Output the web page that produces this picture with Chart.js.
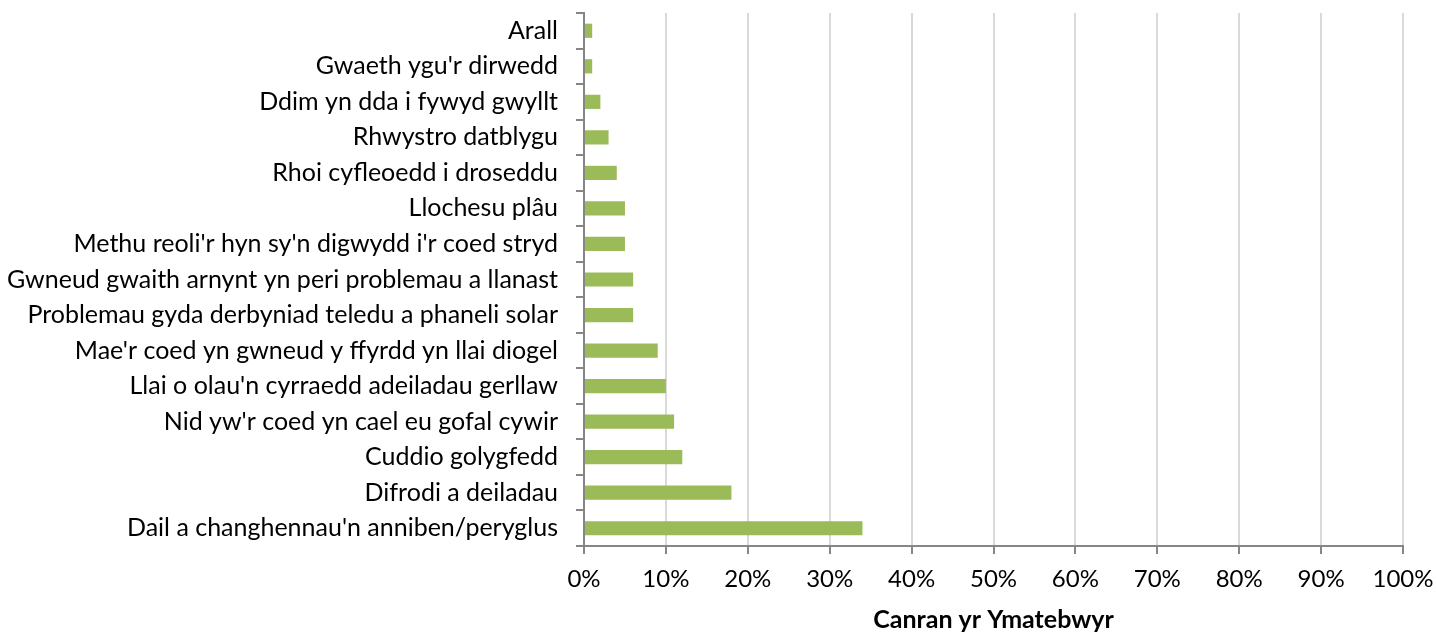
<!DOCTYPE html>
<html>
<head>
<meta charset="utf-8">
<script src="https://cdn.jsdelivr.net/npm/chart.js@4/dist/chart.umd.min.js"></script>
<style>
  html, body { margin: 0; padding: 0; background: #fff; }
  #wrap { width: 1436px; height: 635px; }
</style>
</head>
<body>
<div id="wrap"><canvas id="myChart"></canvas></div>
<script>
// categories, top to bottom as in the picture
const categories = [
  'Arall',
  "Gwaeth ygu'r dirwedd",
  'Ddim yn dda i fywyd gwyllt',
  'Rhwystro datblygu',
  'Rhoi cyfleoedd i droseddu',
  'Llochesu plâu',
  "Methu reoli'r hyn sy'n digwydd i'r coed stryd",
  'Gwneud gwaith arnynt yn peri problemau a llanast',
  'Problemau gyda derbyniad teledu a phaneli solar',
  "Mae'r coed yn gwneud y ffyrdd yn llai diogel",
  "Llai o olau'n cyrraedd adeiladau gerllaw",
  "Nid yw'r coed yn cael eu gofal cywir",
  'Cuddio golygfedd',
  'Difrodi a deiladau',
  "Dail a changhennau'n anniben/peryglus"
];
// percent of respondents
const percentages = [1, 1, 2, 3, 4, 5, 5, 6, 6, 9, 10, 11, 12, 18, 34];
const axisTitle = 'Canran yr Ymatebwyr';

const fontFamily = 'Lato, "Open Sans", sans-serif';

var ctx = document.getElementById('myChart').getContext('2d');
var chart = new Chart(ctx, {
  type: 'bar',
  data: {
    labels: categories,
    datasets: [{
      label: axisTitle,
      backgroundColor: '#9bbb59',
      borderWidth: 0,
      barPercentage: 0.8,
      categoryPercentage: 0.5,
      data: percentages
    }]
  },
  options: {
    indexAxis: 'y',
    responsive: true,
    maintainAspectRatio: false,
    animation: false,
    layout: { padding: { top: 13, right: 33, left: 0, bottom: 0 } },
    plugins: {
      legend: { display: false },
      tooltip: { enabled: false }
    },
    scales: {
      x: {
        min: 0,
        max: 100,
        ticks: {
          stepSize: 10,
          color: '#000',
          padding: 11,
          maxRotation: 0,
          font: { family: fontFamily, size: 24 },
          callback: (v) => v + '%'
        },
        grid: {
          color: '#d9d9d9',
          lineWidth: 2,
          tickColor: '#868686',
          tickLength: 8
        },
        border: { color: '#868686', width: 2 },
        title: {
          display: true,
          text: axisTitle,
          color: '#000',
          font: { family: fontFamily, size: 25, weight: 'bold' },
          padding: { top: 10, bottom: 0 }
        },
        afterFit: (scale) => { scale.height = 89; scale.paddingLeft = 0; scale.paddingRight = 0; }
      },
      y: {
        ticks: {
          color: '#000',
          padding: 18,
          autoSkip: false,
          font: { family: fontFamily, size: 25 }
        },
        grid: {
          drawOnChartArea: false,
          color: '#868686',
          tickLength: 8,
          lineWidth: 2,
          offset: true
        },
        border: { color: '#868686', width: 2 },
        afterFit: (scale) => { scale.width = 584; scale.paddingTop = 0; scale.paddingBottom = 0; }
      }
    }
  }
});
</script>
</body>
</html>
